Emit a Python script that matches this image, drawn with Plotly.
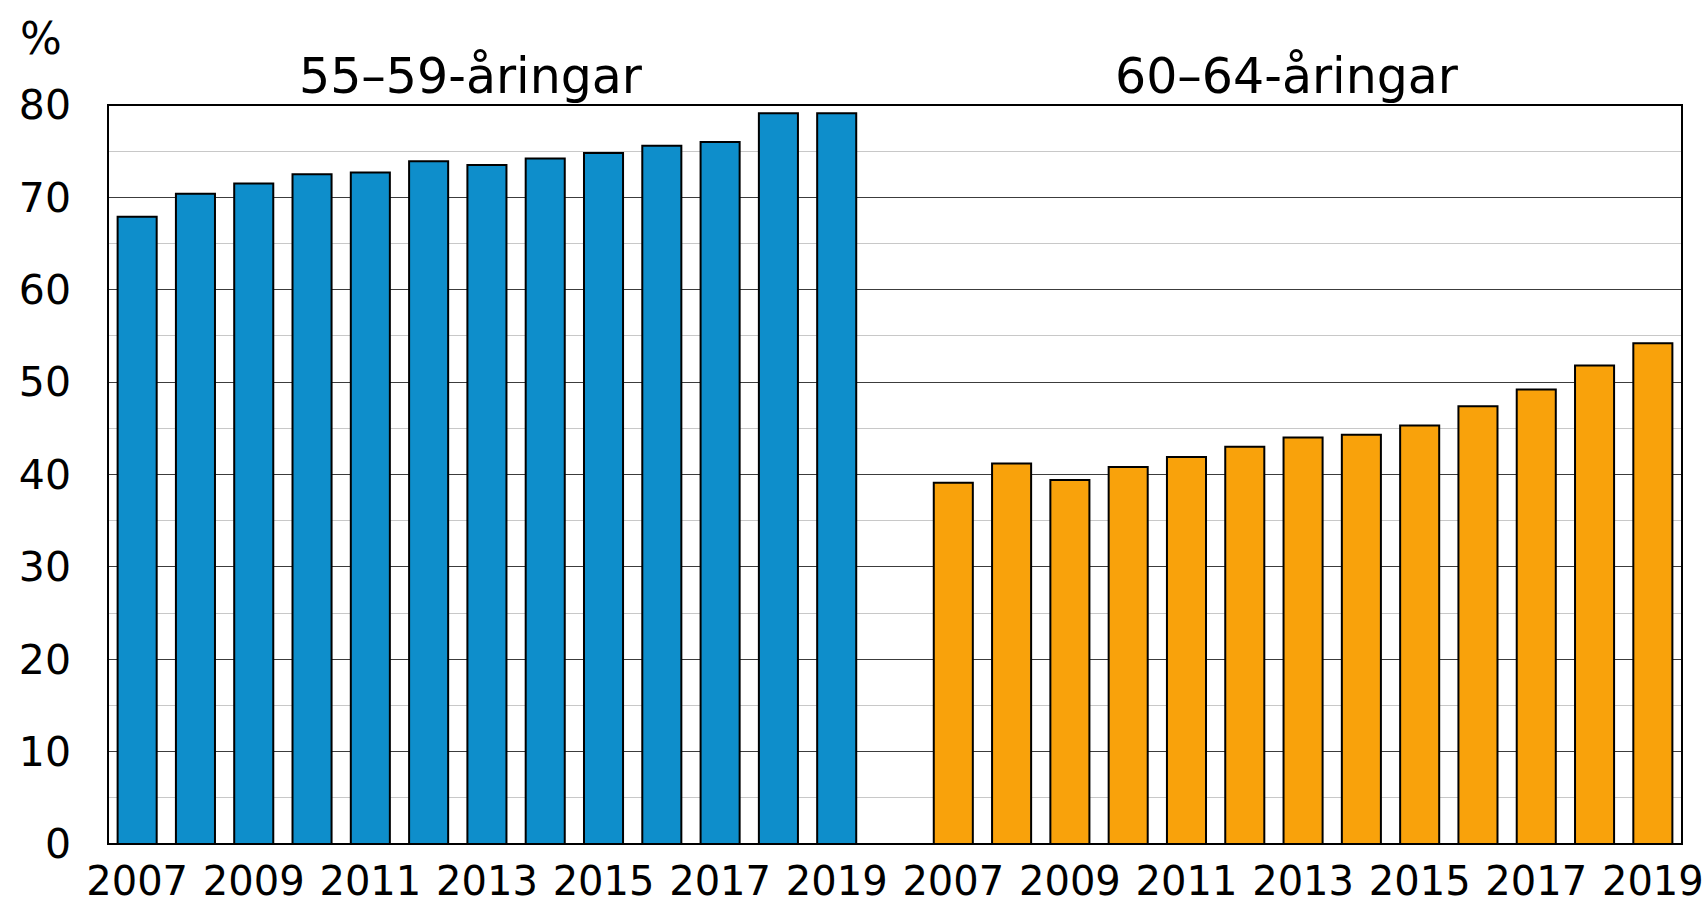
import plotly.graph_objects as go

# data
years = [str(y) for y in range(2007, 2020)]
age_55_59 = [67.9, 70.4, 71.5, 72.5, 72.7, 73.9, 73.5, 74.2, 74.8, 75.6, 76.0, 79.1, 79.1]
age_60_64 = [39.1, 41.2, 39.4, 40.8, 41.9, 43.0, 44.0, 44.3, 45.3, 47.4, 49.2, 51.8, 54.2]
group_titles = ["55\u201359-\u00e5ringar", "60\u201364-\u00e5ringar"]
tick_years = years[::2]

FONT = "DejaVu Sans"
BLUE = "#0e8ecb"
ORANGE = "#f9a20b"

fig = go.Figure()
fig.add_trace(go.Bar(x=years, y=age_55_59, xaxis="x", yaxis="y",
                     marker=dict(color=BLUE, line=dict(color="black", width=2)),
                     showlegend=False))
fig.add_trace(go.Bar(x=years, y=age_60_64, xaxis="x2", yaxis="y2",
                     marker=dict(color=ORANGE, line=dict(color="black", width=2)),
                     showlegend=False))

yax = dict(range=[0, 80], dtick=10, showgrid=True, gridcolor="#3c3c3c", gridwidth=1,
           minor=dict(dtick=5, showgrid=True, gridcolor="#c8c8c8", gridwidth=1),
           zeroline=False, showline=False, ticks="", automargin=False,
           tickfont=dict(family=FONT, size=41, color="black"))
xax = dict(type="category", tickmode="array", tickvals=tick_years, ticktext=tick_years,
           showgrid=False, zeroline=False, showline=False, ticks="", automargin=False,
           tickfont=dict(family=FONT, size=40, color="black"), ticklabelstandoff=10)

fig.update_layout(
    width=1708, height=906,
    margin=dict(l=108, r=26, t=105, b=62),
    plot_bgcolor="white", paper_bgcolor="white",
    bargap=0.33,
    xaxis=dict(xax, domain=[0, 0.5], range=[-0.5, 13], anchor="y"),
    xaxis2=dict(xax, domain=[0.5, 1], range=[-1, 12.5], anchor="y2"),
    yaxis=dict(yax, anchor="x", ticklabelstandoff=36),
    yaxis2=dict(yax, anchor="x2", matches="y", showticklabels=False),
    shapes=[dict(type="rect", xref="paper", yref="paper", x0=0, x1=1, y0=0, y1=1,
                 line=dict(color="black", width=2), layer="above")],
    annotations=[
        dict(text="%", xref="paper", yref="paper", x=-0.0426, y=1.09,
             xanchor="center", yanchor="middle", showarrow=False,
             font=dict(family=FONT, size=44, color="black")),
        dict(text=group_titles[0], xref="paper", yref="paper", x=0.2306, y=1.039,
             xanchor="center", yanchor="middle", showarrow=False,
             font=dict(family=FONT, size=49, color="black")),
        dict(text=group_titles[1], xref="paper", yref="paper", x=0.749, y=1.039,
             xanchor="center", yanchor="middle", showarrow=False,
             font=dict(family=FONT, size=49, color="black")),
    ],
)

# page has a default 8px body margin; drop it so the figure fills the window
fig.write_html("out.html", config={"displayModeBar": False},
               post_script="document.body.style.margin='0';")
